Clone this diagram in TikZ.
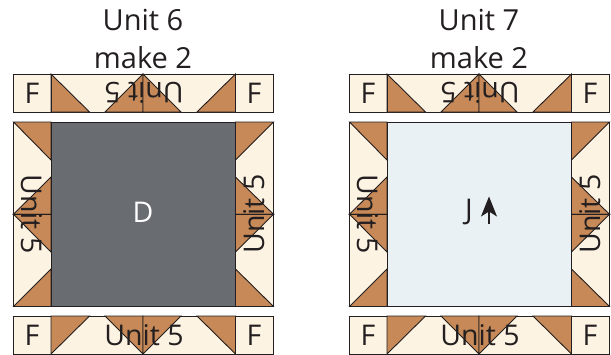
\documentclass[tikz,border=0pt]{standalone}
\usepackage{fontspec}
\setmainfont{Open Sans}
\usetikzlibrary{arrows.meta}
\definecolor{ink}{HTML}{231F20}
\definecolor{cream}{HTML}{FDF3E3}
\definecolor{patch}{HTML}{C68957}
\definecolor{slate}{HTML}{696C70}
\definecolor{iceblue}{HTML}{E9F1F5}
\tikzset{
  piece/.style={draw=ink,line width=0.9pt,line join=miter},
  tri/.style={piece,fill=patch},
  label/.style={text=ink,font=\fontsize{28.5}{29}\selectfont,inner sep=0pt},
  title/.style={label,font=\fontsize{29}{29}\selectfont},
}
\begin{document}
\begin{tikzpicture}[x=1pt,y=-1pt]
    \useasboundingbox (0,0) rectangle (611,354);
    \foreach \dx/\unitno/\fillc/\lab/\labc/\labx in {0/6/slate/D/white/143,336/7/iceblue/J/ink/133}{
    \begin{scope}[shift={(\dx,0)}]
        \node[title] (head\unitno) at (143,20) {Unit \unitno};
        \node[title] (make\unitno) at (143,58) {make 2};

        % Top row.
        \draw[piece,fill=cream] (13.5,74) rectangle (273.5,112);
        \draw[tri] (51,74) -- (51,112) -- (89.5,112) -- cycle;
        \draw[tri] (143,74) -- (105,112) -- (143,112) -- cycle;
        \draw[tri] (143,74) -- (181,112) -- (143,112) -- cycle;
        \draw[tri] (235.5,74) -- (235.5,112) -- (197,112) -- cycle;
        \draw[piece] (51,74) -- (51,112) (235.5,74) -- (235.5,112);

        % Bottom row.
        \draw[piece,fill=cream] (13.5,316) rectangle (273.5,354);
        \draw[tri] (51,354) -- (51,316) -- (89.5,316) -- cycle;
        \draw[tri] (143,354) -- (105,316) -- (143,316) -- cycle;
        \draw[tri] (143,354) -- (181,316) -- (143,316) -- cycle;
        \draw[tri] (235.5,354) -- (235.5,316) -- (197,316) -- cycle;

        % Side columns.
        \draw[piece,fill=cream] (13.5,122) rectangle (51,306.5);
        \draw[piece,fill=cream] (235.5,122) rectangle (273.5,306.5);
        \draw[tri] (13.5,122) -- (51,122) -- (51,160) -- cycle;
        \draw[tri] (13.5,214.3) -- (51,214.3) -- (51,177) -- cycle;
        \draw[tri] (13.5,214.3) -- (51,214.3) -- (51,252) -- cycle;
        \draw[tri] (13.5,306.5) -- (51,306.5) -- (51,269) -- cycle;
        \draw[tri] (273.5,122) -- (235.5,122) -- (235.5,160) -- cycle;
        \draw[tri] (273.5,214.3) -- (235.5,214.3) -- (235.5,177) -- cycle;
        \draw[tri] (273.5,214.3) -- (235.5,214.3) -- (235.5,252) -- cycle;
        \draw[tri] (273.5,306.5) -- (235.5,306.5) -- (235.5,269) -- cycle;

        % Centre block.
        \draw[piece,fill=\fillc] (51,122) rectangle (235.5,306.5);

        % Labels.
        \node[label] (ftl\unitno) at (32,93) {F};
        \node[label] (ftr\unitno) at (254,93) {F};
        \node[label] (fbl\unitno) at (32,335) {F};
        \node[label] (fbr\unitno) at (254,335) {F};
        \node[label,rotate=180] (unittop\unitno) at (144,93) {Unit 5};
        \node[label] (unitbot\unitno) at (144,335) {Unit 5};
        \node[label,rotate=-90] (unitleft\unitno) at (32,214) {Unit 5};
        \node[label,rotate=90] (unitright\unitno) at (254,214) {Unit 5};
        \node[label,text=\labc] (centre\unitno) at (\labx,212) {\lab};
    \end{scope}
    }
    \coordinate (arrowfoot) at (489,223.5);
    \coordinate (arrowtip) at (489,196.5);
    \draw[ink,line width=1.2pt,-{Stealth[length=20pt,width=16pt,inset=5pt]}] (arrowfoot) -- (arrowtip);
\end{tikzpicture}
\end{document}
